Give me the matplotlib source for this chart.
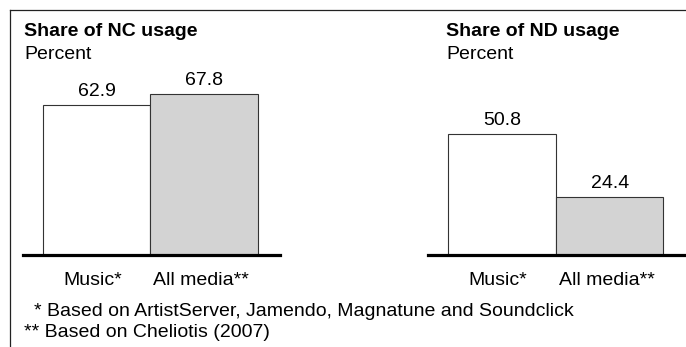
import matplotlib.pyplot as plt
from matplotlib.lines import Line2D

W, H = 686, 347

categories = ["Music*", "All media**"]
nc_share = [62.9, 67.8]
nd_share = [50.8, 24.4]
titles = ["Share of NC usage", "Share of ND usage"]
footnotes = ["* Based on ArtistServer, Jamendo, Magnatune and Soundclick",
             "** Based on Cheliotis (2007)"]

plt.rcParams['font.family'] = ['Liberation Sans', 'DejaVu Sans']
FS = 14

fig = plt.figure(figsize=(W / 100, H / 100), dpi=100)


def fx(px):
    return px / W


def fy(py):
    return 1 - py / H


# outer frame: left and top rules only
fig.add_artist(Line2D([fx(10), fx(10)], [fy(10), 0], color='#222', lw=0.9))
fig.add_artist(Line2D([fx(10), 1], [fy(10), fy(10)], color='#222', lw=0.9))

px_per_pct = 2.38
base_y = 255
ax_h = 190

panels = [(23, 257, 24, nc_share), (428, 258, 446, nd_share)]
for (left, width, tx, vals), title in zip(panels, titles):
    ax = fig.add_axes([fx(left), fy(base_y), width / W, ax_h / H])
    ax.bar([0, 1], vals, width=1.0, color=['white', '#d3d3d3'],
           edgecolor='#333333', linewidth=0.8, zorder=2)
    ax.set_xlim(-0.69, 1.71)
    ax.set_ylim(0, ax_h / px_per_pct)
    ax.axhline(0, color='black', lw=2.3, zorder=3, clip_on=False)
    for i, v in enumerate(vals):
        ax.annotate(f"{v:.1f}", (i, v), xytext=(0, 6.5), textcoords='offset points',
                    ha='center', va='baseline', fontsize=FS)
    ax.set_xticks([-0.04, 0.97])
    ax.set_xticklabels(categories, fontsize=FS)
    ax.tick_params(axis='x', length=0, pad=12)
    ax.set_yticks([])
    for s in ax.spines.values():
        s.set_visible(False)
    ax.patch.set_visible(False)

    fig.text(fx(tx), fy(36), title, fontsize=FS, fontweight='bold', va='baseline')
    fig.text(fx(tx), fy(59), "Percent", fontsize=FS, va='baseline')

fig.text(fx(34), fy(316), footnotes[0], fontsize=FS, va='baseline')
fig.text(fx(24), fy(337), footnotes[1], fontsize=FS, va='baseline')

fig.savefig("out.png", dpi=100)
